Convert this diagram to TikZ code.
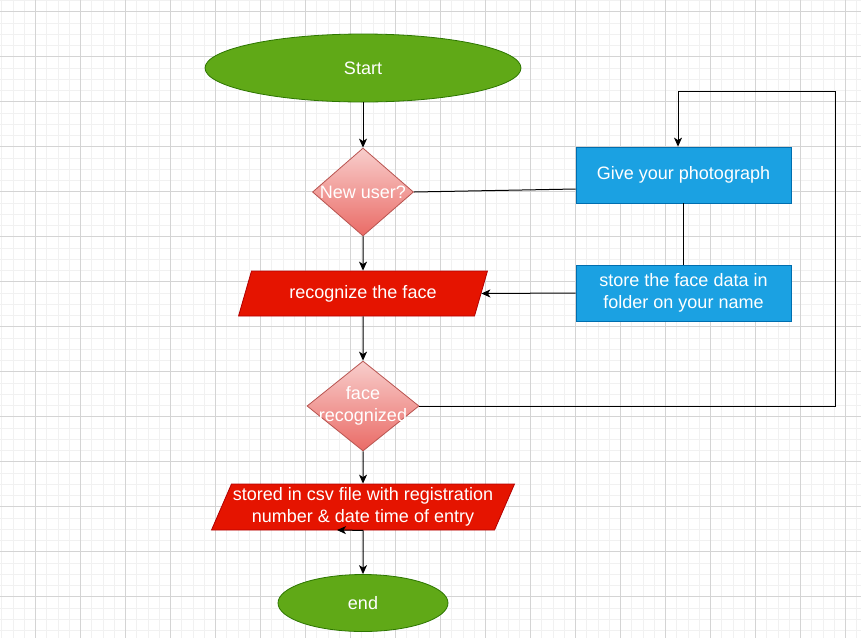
\documentclass[tikz,border=0pt]{standalone}
\usepackage{fontspec}
\setmainfont{Liberation Sans}
\usetikzlibrary{shapes.geometric,arrows.meta}
\definecolor{termfill}{HTML}{60A917}
\definecolor{termdraw}{HTML}{2D7600}
\definecolor{dectop}{HTML}{F8CECC}
\definecolor{decbot}{HTML}{EA6B66}
\definecolor{decdraw}{HTML}{B85450}
\definecolor{iofill}{HTML}{E51400}
\definecolor{iodraw}{HTML}{B20000}
\definecolor{procfill}{HTML}{1BA1E2}
\definecolor{procdraw}{HTML}{006EAF}
\definecolor{minorline}{HTML}{F1F1F1}
\definecolor{majorline}{HTML}{D4D4D4}
\tikzset{
    every node/.style={font=\fontsize{18}{22}\selectfont, text=white,
    	align=center, inner sep=0pt}
}
\tikzset{
    terminal/.style={ellipse, fill=termfill, draw=termdraw, line width=0.8pt},
    decision/.style={diamond, top color=dectop, bottom color=decbot,
    	draw=decdraw, line width=0.8pt},
    inout/.style={trapezium, trapezium left angle=63, trapezium right angle=117,
    	trapezium stretches=true, fill=iofill, draw=iodraw, line width=0.8pt},
    process/.style={rectangle, fill=procfill, draw=procdraw, line width=0.8pt},
    flow/.style={line width=1pt, -{Stealth[length=9pt,width=8pt,inset=2.5pt]}},
    link/.style={line width=1pt}
}

\begin{document}
\begin{tikzpicture}[x=1pt,y=-1pt]
	\useasboundingbox (0,0) rectangle (861,638);
	\fill[white] (0,0) rectangle (861,638);
	% grid
	\foreach \x in {1.75,13,...,861} \draw[minorline, line width=0.8pt] (\x,0) -- (\x,638);
	\foreach \y in {0.45,11.7,...,638} \draw[minorline, line width=0.8pt] (0,\y) -- (861,\y);
	\foreach \x in {35.5,80.5,...,861} \draw[majorline, line width=0.8pt] (\x,0) -- (\x,638);
	\foreach \y in {11.7,56.7,...,638} \draw[majorline, line width=0.8pt] (0,\y) -- (861,\y);
	% flow
	\node[terminal, minimum width=316pt, minimum height=68pt] (start) at (363,68) {Start};
	\node[decision, minimum width=101pt, minimum height=88pt,
		label={center:New user?}] (newuser) at (363,192) {};
	\node[inout, minimum width=249pt, minimum height=45pt] (recog) at (363,293.5) {recognize the face};
	\node[decision, minimum width=112pt, minimum height=90pt,
		label={center:{face\\recognized}}] (facerec) at (363,406) {};
	\node[inout, minimum width=304pt, minimum height=46pt] (stored) at (363,507)
		{stored in csv file with registration\\number \& date time of entry};
	\node[terminal, minimum width=170pt, minimum height=57pt] (end) at (363,603) {end};
	\node[process, minimum width=215pt, minimum height=56pt] (give) at (683.5,175) {Give your photograph};
	\node[process, minimum width=215pt, minimum height=56pt] (store) at (683.5,293) {store the face data in\\folder on your name};
	\coordinate (loopse) at (835,406);
	\coordinate (loopne) at (835,91);
	\coordinate (stray) at (337,530);
	\draw[flow] (start.south) -- (newuser.north);
	\draw[flow] (newuser.south) -- (recog.north);
	\draw[flow] (recog.south) -- (facerec.north);
	\draw[flow] (facerec.south) -- (stored.north);
	\draw[flow] (stored.south) -- (end.north);
	\draw[flow] (stored.south) -- (stray);
	\draw[link] (newuser.east) -- ([yshift=-14pt]give.west);
	\draw[link] (give.south) -- (store.north);
	\draw[flow] (store.west) -- (recog.east);
	\draw[flow] (facerec.east) -- (loopse) -- (loopne) -| ([xshift=-5.5pt]give.north);
\end{tikzpicture}
\end{document}
